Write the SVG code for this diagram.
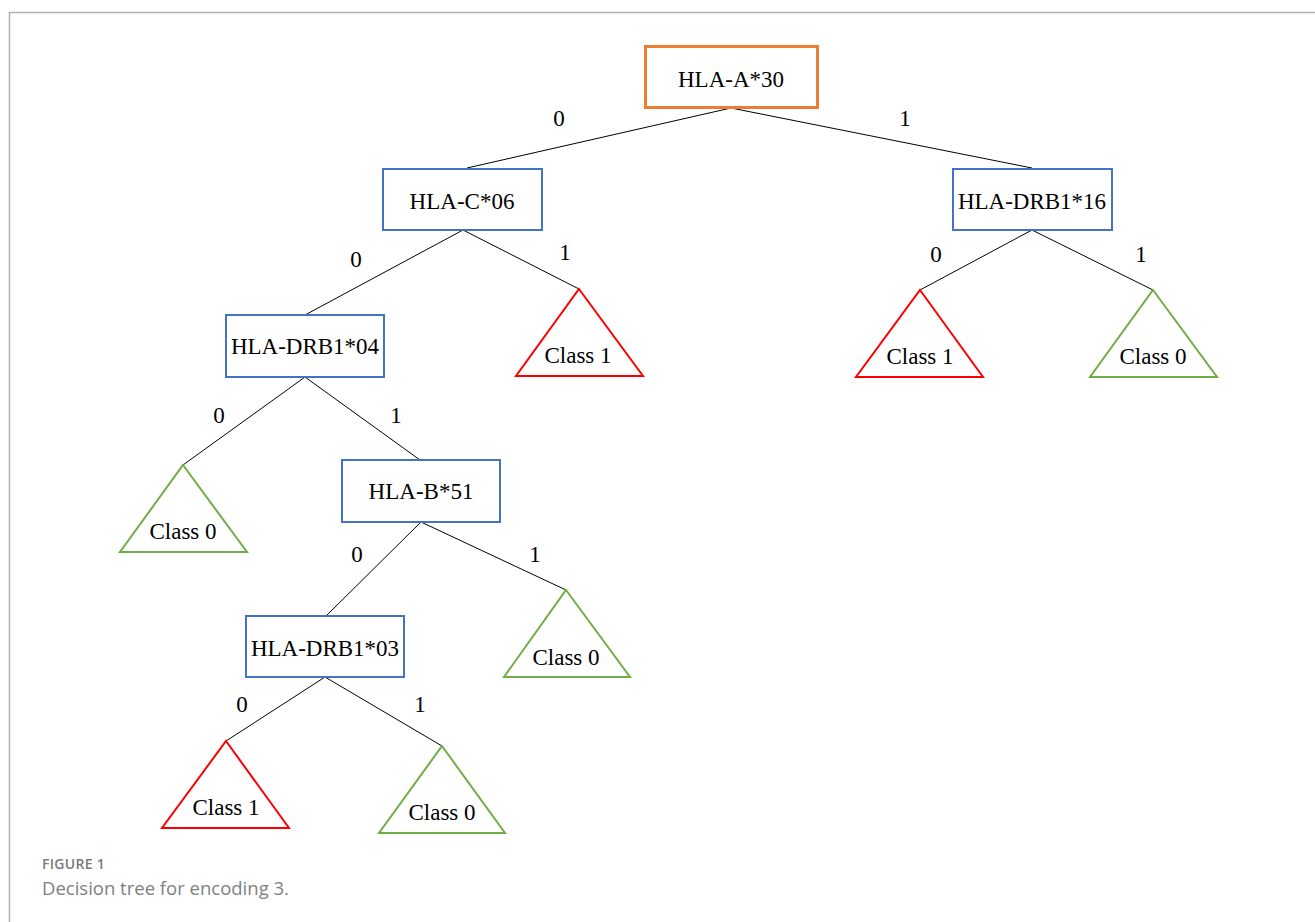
<svg xmlns="http://www.w3.org/2000/svg" width="1315" height="922" viewBox="0 0 1315 922">
<style>
.frame{stroke:#b0b0b0;stroke-width:1.5;fill:none}
.box{fill:#fff;stroke:#4472C4;stroke-width:2}
.root{fill:#fff;stroke:#ED7D31;stroke-width:3}
.c1{fill:#fff;stroke:#FF0000;stroke-width:2}
.c0{fill:#fff;stroke:#70AD47;stroke-width:2}
.edge{stroke:#000;stroke-width:1;fill:none}
text{font-family:"Liberation Serif","Times New Roman",serif;font-size:23px;fill:#000}
.t{text-anchor:middle}
.cap1{font-family:"Open Sans",Lato,sans-serif;font-size:14px;font-weight:600;fill:#7a7a7a;letter-spacing:0.3px}
.cap2{font-family:"Open Sans",Lato,sans-serif;font-size:18.5px;fill:#808080}
</style>
<path class="frame" d="M9.5,922 V12.5 H1315"/>
<g id="connectors">
<line class="edge" x1="731" y1="108" x2="467" y2="168"/>
<line class="edge" x1="731" y1="108" x2="1032" y2="168"/>
<line class="edge" x1="463" y1="230" x2="305" y2="315"/>
<line class="edge" x1="463" y1="230" x2="579" y2="289"/>
<line class="edge" x1="1032" y1="230" x2="920" y2="290"/>
<line class="edge" x1="1032" y1="230" x2="1153" y2="290"/>
<line class="edge" x1="305" y1="377" x2="183" y2="465"/>
<line class="edge" x1="305" y1="377" x2="420" y2="460"/>
<line class="edge" x1="421" y1="522" x2="326" y2="616"/>
<line class="edge" x1="421" y1="522" x2="566" y2="590"/>
<line class="edge" x1="325" y1="677" x2="226" y2="741"/>
<line class="edge" x1="325" y1="677" x2="442" y2="746"/>
<text x="559" y="126" class="t">0</text>
<text x="905" y="126" class="t">1</text>
<text x="356" y="267" class="t">0</text>
<text x="565" y="260" class="t">1</text>
<text x="936" y="262" class="t">0</text>
<text x="1141" y="262" class="t">1</text>
<text x="219" y="423" class="t">0</text>
<text x="396" y="423" class="t">1</text>
<text x="357" y="562" class="t">0</text>
<text x="535" y="562" class="t">1</text>
<text x="242" y="712" class="t">0</text>
<text x="420" y="712" class="t">1</text>
</g>
<g id="n-hla-a30"><rect class="root" x="645.5" y="46.5" width="172" height="61"/><text x="731" y="87" class="t">HLA-A*30</text></g>
<g id="n-hla-c06"><rect class="box" x="383" y="169" width="159" height="61"/><text x="462" y="209" class="t">HLA-C*06</text></g>
<g id="n-hla-drb1-16"><rect class="box" x="953" y="169" width="159" height="61"/><text x="1032" y="209" class="t">HLA-DRB1*16</text></g>
<g id="n-hla-drb1-04"><rect class="box" x="226" y="315" width="158" height="62"/><text x="305" y="354" class="t">HLA-DRB1*04</text></g>
<g id="n-c06-class1"><polygon class="c1" points="579,289 643,376 516,376"/><text x="578" y="363" class="t">Class 1</text></g>
<g id="n-drb16-class1"><polygon class="c1" points="920,290 983,377 856,377"/><text x="920" y="364" class="t">Class 1</text></g>
<g id="n-drb16-class0"><polygon class="c0" points="1153,290 1217,377 1090,377"/><text x="1153" y="364" class="t">Class 0</text></g>
<g id="n-drb04-class0"><polygon class="c0" points="183,465 247,552 120,552"/><text x="183" y="539" class="t">Class 0</text></g>
<g id="n-hla-b51"><rect class="box" x="342" y="460" width="158" height="62"/><text x="421" y="499" class="t">HLA-B*51</text></g>
<g id="n-b51-class0"><polygon class="c0" points="566,590 630,677 504,677"/><text x="566" y="665" class="t">Class 0</text></g>
<g id="n-hla-drb1-03"><rect class="box" x="246" y="616" width="158" height="61"/><text x="325" y="656" class="t">HLA-DRB1*03</text></g>
<g id="n-drb03-class1"><polygon class="c1" points="226,741 289,828 162,828"/><text x="226" y="815" class="t">Class 1</text></g>
<g id="n-drb03-class0"><polygon class="c0" points="442,746 505,833 379,833"/><text x="442" y="820" class="t">Class 0</text></g>
<g id="caption">
<text x="42" y="869" class="cap1">FIGURE 1</text>
<text x="42" y="895" class="cap2">Decision tree for encoding 3.</text>
</g>
</svg>
